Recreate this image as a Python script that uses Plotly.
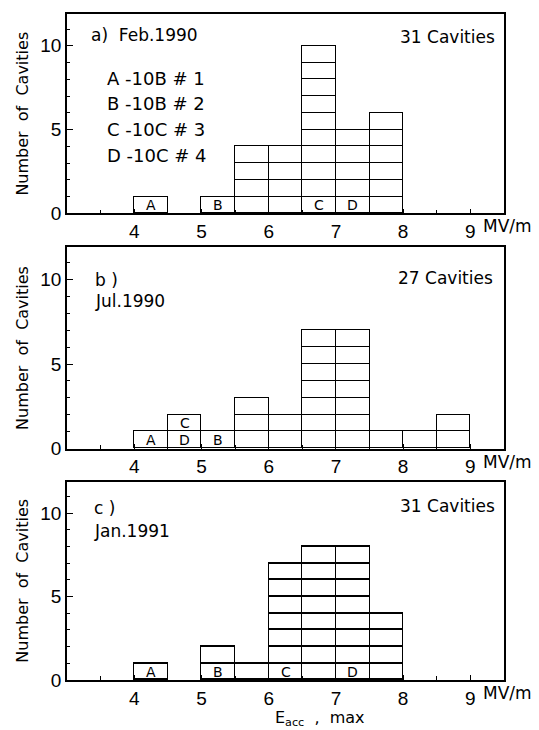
import plotly.graph_objects as go
from plotly.subplots import make_subplots

# ---- data ----
bin_centers = [4.25, 4.75, 5.25, 5.75, 6.25, 6.75, 7.25, 7.75, 8.25, 8.75]
feb1990 = [1, 0, 1, 4, 4, 10, 5, 6, 0, 0]
jul1990 = [1, 2, 1, 3, 2, 7, 7, 1, 1, 2]
jan1991 = [1, 0, 2, 1, 7, 8, 8, 4, 0, 0]
panels = [feb1990, jul1990, jan1991]
panel_tags = [["a)  Feb.1990"], ["b )", "Jul.1990"], ["c )", "Jan.1991"]]
panel_totals = ["31 Cavities", "27 Cavities", "31 Cavities"]
# cavity markers: (letter, bin center, level)
markers = [
    [("A", 4.25, 0.5), ("B", 5.25, 0.5), ("C", 6.75, 0.5), ("D", 7.25, 0.5)],
    [("A", 4.25, 0.5), ("D", 4.75, 0.5), ("C", 4.75, 1.5), ("B", 5.25, 0.5)],
    [("A", 4.25, 0.5), ("B", 5.25, 0.5), ("C", 6.25, 0.5), ("D", 7.25, 0.5)],
]
key_lines = ["A -10B # 1", "B -10B # 2", "C -10C # 3", "D -10C # 4"]
x_ticks = [4, 5, 6, 7, 8, 9]
y_ticks = [0, 5, 10]

FONT = "DejaVu Sans, Liberation Sans, sans-serif"
TICKFONT = "Liberation Sans Narrow, Liberation Sans, Arial, sans-serif"
fig = make_subplots(rows=3, cols=1)

for r, counts in enumerate(panels, start=1):
    for k in range(1, max(counts) + 1):
        fig.add_trace(go.Bar(
            x=bin_centers,
            y=[1 if c >= k else None for c in counts],
            width=0.5,
            marker=dict(color="white", line=dict(color="black", width=1.5)),
            showlegend=False, hoverinfo="skip",
        ), row=r, col=1)

domains = [(0.7006, 1.0), (0.3473, 0.6497), (0.0, 0.2979)]
for i, dom in enumerate(domains, start=1):
    xa = "xaxis" if i == 1 else f"xaxis{i}"
    ya = "yaxis" if i == 1 else f"yaxis{i}"
    fig.layout[xa].update(
        domain=[0, 1], range=[3.0, 9.5], tickvals=x_ticks,
        ticktext=[str(t) for t in x_ticks],
        ticks="inside", ticklen=5, tickwidth=1.2, tickcolor="black",
        minor=dict(dtick=0.5, tick0=3.5, ticks="inside", ticklen=4, tickcolor="black"),
        showline=True, linecolor="black", linewidth=1.5, mirror=True,
        showgrid=False, zeroline=False,
        tickfont=dict(family=TICKFONT, size=19, color="black"),
    )
    fig.layout[ya].update(
        domain=list(dom), range=[0, 11.9], tickvals=y_ticks,
        ticks="inside", ticklen=6, tickwidth=1.2, tickcolor="black",
        minor=dict(dtick=1, ticks="inside", ticklen=3, tickcolor="black"),
        showline=True, linecolor="black", linewidth=1.5, mirror=True,
        showgrid=False, zeroline=False,
        tickfont=dict(family=TICKFONT, size=19, color="black"),
        title=dict(text="Number  of  Cavities", standoff=8,
                   font=dict(family=FONT, size=16, color="black")),
    )

tag_pos = [(22, [-21]), (26, [-33, -54]), (25, [-26, -49])]
tot_pos = [(-7, -23), (-9, -31), (-7, -24)]
anns = []
for i in range(3):
    xr = "x" if i == 0 else f"x{i+1}"
    yr = "y" if i == 0 else f"y{i+1}"
    # MV/m unit next to 9
    anns.append(dict(x=9, y=0, xref=xr, yref=f"{yr} domain", text="MV/m",
                     xanchor="left", yanchor="middle", xshift=11, yshift=-13,
                     showarrow=False, font=dict(family=FONT, size=17, color="black")))
    # totals
    anns.append(dict(x=1, y=1, xref=f"{xr} domain", yref=f"{yr} domain",
                     text=panel_totals[i], xanchor="right", yanchor="middle",
                     xshift=tot_pos[i][0], yshift=tot_pos[i][1], showarrow=False,
                     font=dict(family=FONT, size=17, color="black")))
    # tags
    for j, t in enumerate(panel_tags[i]):
        anns.append(dict(x=0, y=1, xref=f"{xr} domain", yref=f"{yr} domain",
                         text=t, xanchor="left", yanchor="middle",
                         xshift=tag_pos[i][0], yshift=tag_pos[i][1][j],
                         showarrow=False, font=dict(family=FONT, size=17, color="black")))
    # cavity markers
    for (lt, xc, yc) in markers[i]:
        anns.append(dict(x=xc, y=yc, xref=xr, yref=yr, text=lt, showarrow=False,
                         borderpad=0,
                         font=dict(family=FONT, size=14, color="black")))

for j, t in enumerate(key_lines):
    anns.append(dict(x=0, y=1, xref="x domain", yref="y domain", text=t,
                     xanchor="left", yanchor="middle", xshift=38, yshift=-64 - 25.7 * j,
                     showarrow=False, font=dict(family=FONT, size=18, color="black")))

anns.append(dict(x=0.58, y=0, xref="paper", yref="paper",
                 text="E<sub>acc</sub>  ,  max", xanchor="center", yanchor="middle",
                 yshift=-38, showarrow=False,
                 font=dict(family=FONT, size=16, color="black")))

fig.update_layout(
    width=539, height=730, barmode="stack", bargap=0,
    margin=dict(l=67, r=35, t=12, b=50),
    paper_bgcolor="white", plot_bgcolor="white",
    annotations=anns, showlegend=False,
)
fig.write_html("out.html")
